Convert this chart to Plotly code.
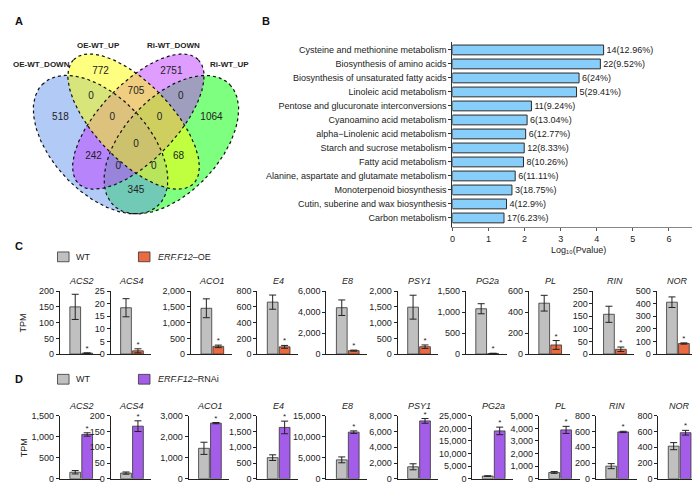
import numpy as np
import plotly.graph_objects as go

W, H = 700, 483
FONT = "Liberation Sans, Arial, sans-serif"

# ---------------- Panel A data ----------------
venn_sets = ["OE-WT_DOWN", "OE-WT_UP", "Ri-WT_DOWN", "Ri-WT_UP"]
# region order: Y only, P only, B only, G only, B&Y, Y&P, P&G, B&Y&P, Y&P&G, all,
#               B&P, B&P&G, B&Y&G, Y&G, B&G
venn_counts = [772, 2751, 518, 1064, 0, 705, 0, 0, 0, 0, 242, 0, 0, 68, 345]

# ---------------- Panel B data ----------------
kegg_terms = ["Cysteine and methionine metabolism", "Biosynthesis of amino acids",
              "Biosynthesis of unsaturated fatty acids", "Linoleic acid metabolism",
              "Pentose and glucuronate interconversions", "Cyanoamino acid metabolism",
              "alpha\u2212Linolenic acid metabolism", "Starch and sucrose metabolism",
              "Fatty acid metabolism", "Alanine, aspartate and glutamate metabolism",
              "Monoterpenoid biosynthesis", "Cutin, suberine and wax biosynthesis",
              "Carbon metabolism"]
kegg_logp = [4.19, 4.10, 3.51, 3.44, 2.19, 2.07, 2.03, 1.99, 1.97, 1.74, 1.65, 1.50, 1.43]
kegg_labels = ["14(12.96%)", "22(9.52%)", "6(24%)", "5(29.41%)", "11(9.24%)", "6(13.04%)",
               "6(12.77%)", "12(8.33%)", "8(10.26%)", "6(11.11%)", "3(18.75%)", "4(12.9%)",
               "17(6.23%)"]
kegg_xticks = [0, 1, 2, 3, 4, 5, 6]

# ---------------- Panels C / D data ----------------
genes = ["ACS2", "ACS4", "ACO1", "E4", "E8", "PSY1", "PG2a", "PL", "RIN", "NOR"]
wt_c = [150, 18.4, 1455, 660, 4420, 1490, 1080, 485, 158, 412]
wt_c_err = [40, 3.6, 300, 90, 740, 380, 120, 75, 32, 42]
oe = [3, 1.3, 245, 92, 330, 235, 15, 87, 19, 84]
oe_err = [1, 0.8, 40, 18, 50, 55, 5, 42, 9, 5]
c_ymax = [200, 25, 2000, 800, 6000, 2000, 1500, 600, 250, 500]
c_dtick = [50, 5, 500, 200, 2000, 500, 500, 200, 50, 100]

wt_d = [155, 18, 1450, 670, 4500, 1520, 1060, 500, 160, 414]
wt_d_err = [40, 3.5, 290, 90, 700, 380, 120, 70, 32, 45]
rnai = [1055, 167, 2650, 1630, 11100, 7350, 19000, 3880, 595, 585]
rnai_err = [40, 17, 30, 200, 300, 300, 1500, 280, 8, 30]
d_ymax = [1500, 200, 3000, 2000, 15000, 8000, 25000, 5000, 800, 800]
d_dtick = [500, 50, 1000, 500, 5000, 2000, 5000, 1000, 200, 200]

# ---------------- helpers ----------------
def px(xp):
    return xp / W

def py(yp):
    return 1 - yp / H

fig = go.Figure()
annotations = []
shapes = []
layout = dict(width=W, height=H, margin=dict(l=0, r=0, t=0, b=0),
              paper_bgcolor="white", plot_bgcolor="rgba(0,0,0,0)",
              showlegend=False, font=dict(family=FONT, size=9, color="#222"))

# ================= Panel A: Venn (4-ellipse layout) =================
layout["xaxis"] = dict(domain=[0, px(250)], range=[0, 250], visible=False, fixedrange=True)
layout["yaxis"] = dict(domain=[py(215), py(28)], range=[215, 28], visible=False, fixedrange=True)

def to_px(x, y):
    return 7 + 237 * np.asarray(x), 251 - 248 * np.asarray(y)

r = np.sqrt(0.5)
ellipses = {  # center (unit square, y up), semi-axes, orientation sign, fill
    "blue": (0.35, 0.47, 0.35, 0.20, -1, "rgba(100,149,237,0.5)"),
    "yellow": (0.49, 0.565, 0.36, 0.16, -1, "rgba(255,255,0,0.5)"),
    "purple": (0.51, 0.565, 0.36, 0.16, 1, "rgba(191,62,255,0.5)"),
    "green": (0.65, 0.47, 0.35, 0.20, 1, "rgba(0,255,0,0.5)"),
}
order = ["green", "blue", "purple", "yellow"]
t = np.linspace(0, 2 * np.pi, 260)
outlines = []
for name in order:
    cx, cy, ea, eb, s, col = ellipses[name]
    ux, uy = s * r, r
    vx, vy = r, -s * r
    ex = cx + ea * np.cos(t) * ux + eb * np.sin(t) * vx
    ey = cy + ea * np.cos(t) * uy + eb * np.sin(t) * vy
    X, Y = to_px(ex, ey)
    fig.add_trace(go.Scatter(x=X, y=Y, mode="lines", fill="toself", fillcolor=col,
                             line=dict(width=0), hoverinfo="skip", xaxis="x", yaxis="y"))
    outlines.append((X, Y))
for X, Y in outlines:
    fig.add_trace(go.Scatter(x=X, y=Y, mode="lines", line=dict(color="#111", width=1.2, dash="dot"),
                             hoverinfo="skip", xaxis="x", yaxis="y"))

# region label anchors (unit square), same order as venn_counts
venn_label_unit = [(0.35, 0.77), (0.65, 0.77), (0.18, 0.58), (0.82, 0.58), (0.31, 0.67),
                   (0.5, 0.69), (0.69, 0.67), (0.4, 0.58), (0.6, 0.58), (0.5, 0.47),
                   (0.32, 0.42), (0.425, 0.38), (0.575, 0.38), (0.68, 0.42), (0.5, 0.28)]
LX, LY = to_px([p[0] for p in venn_label_unit], [p[1] for p in venn_label_unit])
fig.add_trace(go.Scatter(x=LX, y=LY, mode="text", text=[str(v) for v in venn_counts],
                         textfont=dict(size=10, color="#222", family=FONT),
                         hoverinfo="skip", xaxis="x", yaxis="y"))
set_label_px = [(31, 53), (88, 33), (163, 33), (219, 53)]
for name, (lx, ly) in zip(venn_sets, set_label_px):
    annotations.append(dict(x=px(lx), y=py(ly), xref="paper", yref="paper", text=f"<b>{name}</b>",
                            showarrow=False, font=dict(size=8, color="#222"), xanchor="center", yanchor="middle"))

# ================= Panel B: KEGG bars =================
fig.add_trace(go.Bar(orientation="h", x=kegg_logp, y=kegg_terms, width=0.7,
                     marker=dict(color="#87CEFA", line=dict(color="#2a2a2a", width=1)),
                     text=kegg_labels, textposition="outside", constraintext="none",
                     textfont=dict(size=9, color="#222"), cliponaxis=False,
                     xaxis="x2", yaxis="y2"))
layout["xaxis2"] = dict(domain=[px(443.3), px(697)], range=[0, 7], anchor="y2",
                        tickvals=kegg_xticks, ticks="outside", ticklen=3, tickcolor="#555",
                        showline=True, linecolor="#888", linewidth=1, showgrid=False, zeroline=False,
                        tickfont=dict(size=9))
layout["yaxis2"] = dict(domain=[py(218.3), py(30)], anchor="x2", type="category",
                        categoryorder="array", categoryarray=kegg_terms, range=[12.63, -0.54],
                        ticks="outside", ticklen=3, tickcolor="#333", showline=True,
                        linecolor="#333", linewidth=1, showgrid=False, tickfont=dict(size=9))
annotations.append(dict(x=px(570), y=py(242), xref="paper", yref="paper",
                        text="Log\u2081\u2080(Pvalue)", showarrow=False,
                        font=dict(size=9), xanchor="center", yanchor="middle"))

# ================= Panels C & D =================
c_left = [49, 100, 180.7, 247.3, 316.7, 388.3, 456.7, 520, 585, 648.3]
d_left = [49, 100, 178.3, 247.3, 316.7, 388.3, 463.3, 530, 587.3, 650]
PW = 41
XR = [-15.5 / 12, (PW - 15.5) / 12]
GRAY = "#C0C0C0"
ORANGE = "#EB6A42"
PURPLE = "#A35DE8"

def add_panel(idx0, lefts, ydom_px, title_y, wt, wt_err, trt, trt_err, ymaxs, dticks, tcol):
    for i, g in enumerate(genes):
        n = idx0 + i
        xa, ya = f"x{n}", f"y{n}"
        L = lefts[i]
        layout[f"xaxis{n}"] = dict(domain=[px(L), px(L + PW)], range=XR, anchor=ya,
                                   showline=True, linecolor="#222", linewidth=1,
                                   showticklabels=False, ticks="", showgrid=False, zeroline=False)
        layout[f"yaxis{n}"] = dict(domain=[py(ydom_px[1]), py(ydom_px[0])], anchor=xa,
                                   range=[0, ymaxs[i]], dtick=dticks[i], tick0=0, tickformat=",d",
                                   ticks="outside", ticklen=3, tickcolor="#222",
                                   showline=True, linecolor="#222", linewidth=1,
                                   showgrid=False, zeroline=False, tickfont=dict(size=9))
        fig.add_trace(go.Bar(x=[0, 1], y=[wt[i], trt[i]], width=0.9,
                             marker=dict(color=[GRAY, tcol], line=dict(color="#333", width=0.8)),
                             error_y=dict(type="data", array=[wt_err[i], trt_err[i]],
                                          color="#222", thickness=1, width=3.5),
                             cliponaxis=False, xaxis=xa, yaxis=ya))
        fig.add_trace(go.Scatter(x=[1], y=[trt[i] + trt_err[i]], mode="text", text=["*"],
                                 textposition="top center", textfont=dict(size=8, color="#222"),
                                 cliponaxis=False, hoverinfo="skip", xaxis=xa, yaxis=ya))
        annotations.append(dict(x=0.5, y=py(title_y), xref=xa, yref="paper", text=f"<i>{g}</i>",
                                showarrow=False, font=dict(size=9), xanchor="center", yanchor="middle"))

add_panel(3, c_left, (284, 348.3), 274, wt_c, wt_c_err, oe, oe_err, c_ymax, c_dtick, ORANGE)
add_panel(13, d_left, (411.3, 475.6), 401.5, wt_d, wt_d_err, rnai, rnai_err, d_ymax, d_dtick, PURPLE)

# TPM labels
for yc in (316, 443.5):
    annotations.append(dict(x=px(13), y=py(yc), xref="paper", yref="paper", text="TPM", textangle=-90,
                            showarrow=False, font=dict(size=9), xanchor="center", yanchor="middle"))

# legends for C and D
def legend_row(yc, tcol, label):
    shapes.append(dict(type="rect", xref="paper", yref="paper", x0=px(46.7), x1=px(58.3),
                       y0=py(yc + 5), y1=py(yc - 5), fillcolor=GRAY, line=dict(color="#333", width=0.8)))
    annotations.append(dict(x=px(63), y=py(yc), xref="paper", yref="paper", text="WT",
                            showarrow=False, font=dict(size=9), xanchor="left", yanchor="middle"))
    shapes.append(dict(type="rect", xref="paper", yref="paper", x0=px(128), x1=px(139.6),
                       y0=py(yc + 5), y1=py(yc - 5), fillcolor=tcol, line=dict(color="#333", width=0.8)))
    annotations.append(dict(x=px(146), y=py(yc), xref="paper", yref="paper", text=label,
                            showarrow=False, font=dict(size=9), xanchor="left", yanchor="middle"))

legend_row(249, ORANGE, "<i>ERF.F12</i>\u2013OE")
legend_row(374, PURPLE, "<i>ERF.F12</i>\u2013RNAi")

# panel letters
for letter, (lx, ly) in zip(["A", "B", "C", "D"], [(8, 8), (256, 8), (8, 238), (8, 374)]):
    annotations.append(dict(x=px(lx), y=py(ly), xref="paper", yref="paper", text=f"<b>{letter}</b>",
                            showarrow=False, font=dict(size=11, color="#111"), xanchor="center", yanchor="middle"))

layout["annotations"] = annotations
layout["shapes"] = shapes
fig.update_layout(**layout)
fig.write_html("out.html")
